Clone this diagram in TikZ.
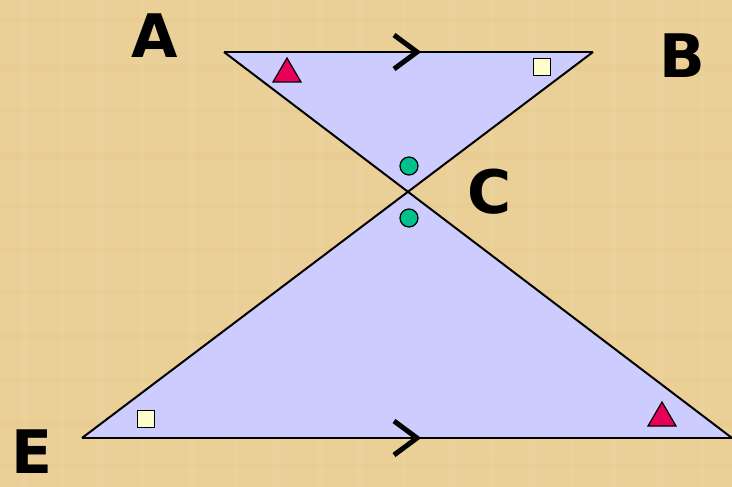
\documentclass[tikz,border=0pt]{standalone}
\usepackage{fontspec}
\newfontfamily\lblfont{DejaVu Sans}
\definecolor{parch}{RGB}{234,208,150}
\definecolor{tri}{RGB}{204,204,255}
\definecolor{redmk}{RGB}{230,0,90}
\definecolor{sqmk}{RGB}{255,255,204}
\definecolor{circmk}{RGB}{0,192,140}
\tikzset{
  edge/.style={draw=black, line width=2pt},
  shade/.style={fill=tri},
  chevron/.style={draw=black, line width=5pt},
  vlabel/.style={font=\lblfont\bfseries\fontsize{60}{62}\selectfont, inner sep=0pt},
  trimark/.style={draw=black, fill=redmk, line width=1.2pt, line join=miter},
  sqmark/.style={draw=black, fill=sqmk, line width=1.2pt},
  circmark/.style={draw=black, fill=circmk, line width=1.2pt}
}
\begin{document}
\begin{tikzpicture}[x=1pt, y=-1pt]
\fill[parch] (0,0) rectangle (732,487);
\useasboundingbox (0,0) rectangle (732,487);
% faint texture
\foreach \xx/\ww in {22/6,61/4,97/8,140/5,188/7,233/4,271/9,318/5,356/6,402/4,447/8,489/5,528/7,571/4,610/6,655/8,700/5}
  \fill[white, opacity=0.06] (\xx,0) rectangle ++(\ww,487);
\foreach \yy/\hh in {18/5,64/7,109/4,152/8,203/5,247/6,290/4,333/7,378/5,421/6,463/4}
  \fill[brown, opacity=0.04] (0,\yy) rectangle ++(732,\hh);
\coordinate (A) at (224,52);
\coordinate (B) at (593,52);
\coordinate (C) at (408,192);
\coordinate (E) at (82,438);
\coordinate (F) at (732,438);
\fill[shade] (A) -- (B) -- (C) -- cycle;
\fill[shade] (C) -- (E) -- (F) -- cycle;
\draw[edge] (A) -- (B);
\draw[edge] (E) -- (F);
\draw[edge] (A) -- (F);
\draw[edge] (B) -- (E);
% parallel chevrons
\coordinate (ch1) at (417,52);
\coordinate (ch2) at (417,438);
\draw[chevron] ([shift={(-23,-17)}]ch1) -- (ch1) -- ([shift={(-23,17)}]ch1);
\draw[chevron] ([shift={(-23,-17)}]ch2) -- (ch2) -- ([shift={(-23,17)}]ch2);
% angle markers
\coordinate (t1) at (287,70);
\coordinate (t2) at (662,414);
\draw[trimark] ([shift={(0,-12)}]t1) -- ([shift={(14,12)}]t1) -- ([shift={(-14,12)}]t1) -- cycle;
\draw[trimark] ([shift={(0,-12)}]t2) -- ([shift={(14,12)}]t2) -- ([shift={(-14,12)}]t2) -- cycle;
\node[sqmark, minimum size=17pt, inner sep=0pt] (s1) at (542,67) {};
\node[sqmark, minimum size=17pt, inner sep=0pt] (s2) at (146,419) {};
\node[circmark, circle, minimum size=18pt, inner sep=0pt] (c1) at (409,166) {};
\node[circmark, circle, minimum size=18pt, inner sep=0pt] (c2) at (409,218) {};
% labels
\node[vlabel] (lA) at (155,36) {A};
\node[vlabel] (lB) at (682,56) {B};
\node[vlabel] (lC) at (490,192) {C};
\node[vlabel] (lE) at (32,452) {E};
\end{tikzpicture}
\end{document}
